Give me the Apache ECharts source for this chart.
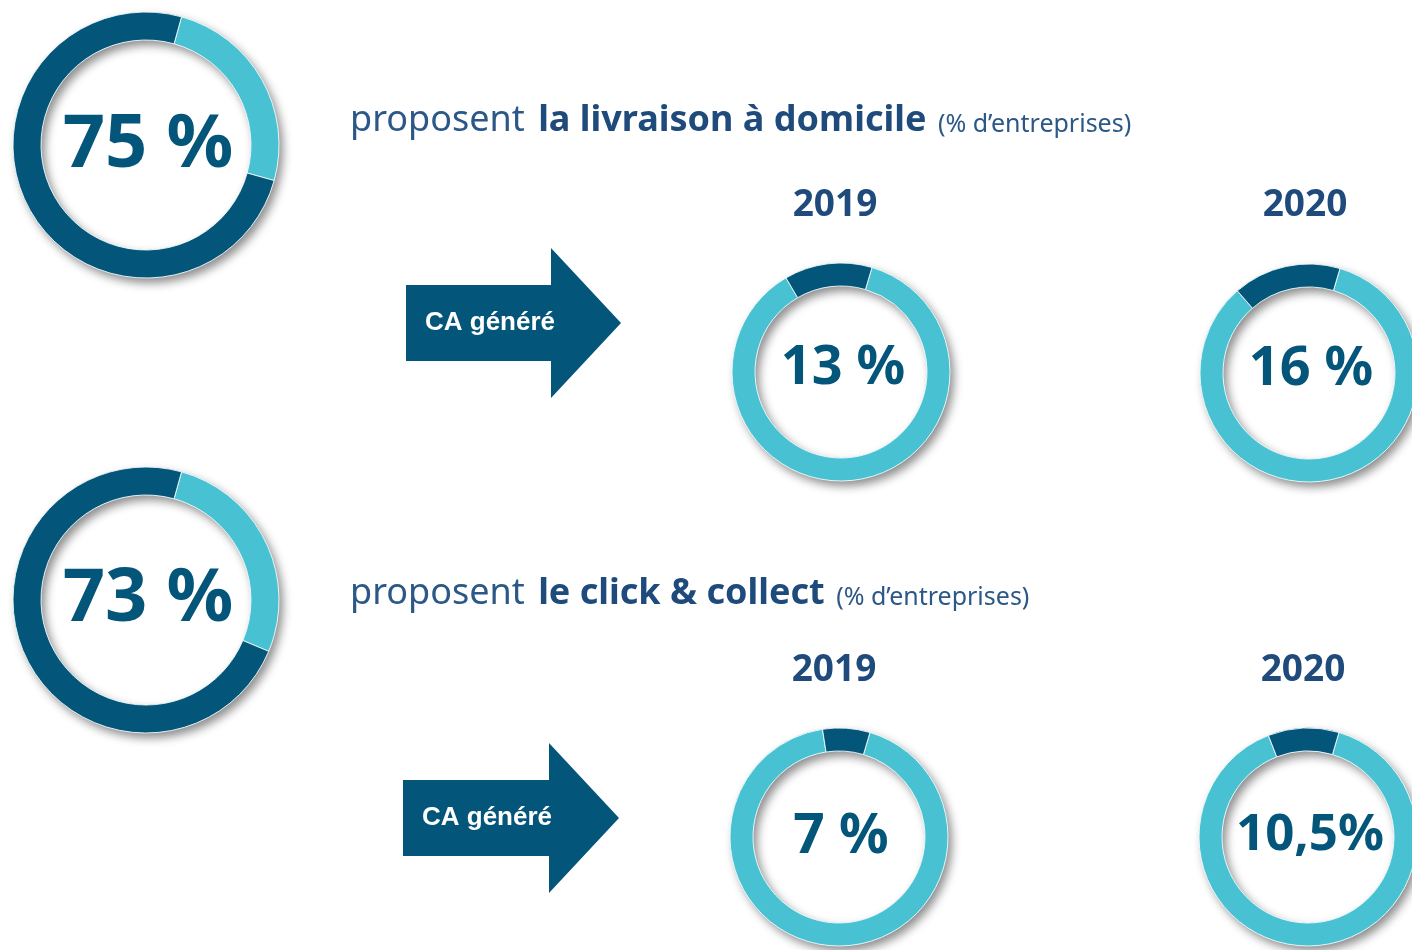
<!DOCTYPE html>
<html>
<head>
<meta charset="utf-8">
<script src="https://cdn.jsdelivr.net/npm/echarts@6/dist/echarts.min.js"></script>
<style>
    html, body { margin: 0; padding: 0; background: #fff; }
    #main { width: 1412px; height: 950px; }
</style>
</head>
<body>
<div id="main"></div>
<script>
var ringValues = [75, 73, 13, 16, 7, 10.5];
var ringLabels = ['75 %', '73 %', '13 %', '16 %', '7 %', '10,5%'];
var years = ['2019', '2020'];
var headingLead = 'proposent ';
var headingBold = ['la livraison à domicile', 'le click & collect'];
var headingNote = ' (% d\u2019entreprises)';
var arrowText = 'CA généré';

var DARK = '#03557a';
var LIGHT = '#48c1d3';
var NAVY = '#1f4a7c';
var FONT = '"Noto Sans", "Open Sans", sans-serif';

// centre + rayons de chaque anneau
var rings = [
    { c: [146, 145], r: [105, 133], fs: 74, start: 74.5, dy: 1 },
    { c: [146, 600], r: [105, 133], fs: 74, start: 74.5, dy: 0 },
    { c: [841, 372], r: [86, 109], fs: 54, start: 73.5, dy: -3 },
    { c: [1309, 373], r: [86, 109], fs: 54, start: 73.5, dy: -3 },
    { c: [839, 837], r: [86, 109], fs: 55, start: 73.5, dy: 0 },
    { c: [1308, 837], r: [86, 109], fs: 51, start: 73.5, dy: -2 }
];

var chart = echarts.init(document.getElementById('main'));

var series = [];
rings.forEach(function (ring, i) {
    // ombre portée sous l'anneau
    series.push({
        type: 'pie',
        silent: true,
        center: ring.c,
        radius: ring.r,
        label: { show: false },
        labelLine: { show: false },
        itemStyle: {
            color: LIGHT,
            shadowBlur: 10,
            shadowOffsetX: 4,
            shadowOffsetY: 5,
            shadowColor: 'rgba(0, 0, 0, 0.45)'
        },
        data: [100]
    });
    series.push({
        type: 'pie',
        silent: true,
        center: ring.c,
        radius: ring.r,
        startAngle: ring.start,
        clockwise: true,
        label: { show: false },
        labelLine: { show: false },
        itemStyle: { borderColor: 'rgba(255,255,255,0.85)', borderWidth: 1 },
        data: [
            { value: 100 - ringValues[i], itemStyle: { color: LIGHT } },
            { value: ringValues[i], itemStyle: { color: DARK } }
        ]
    });
});

var graphics = [];
rings.forEach(function (ring, i) {
    graphics.push({
        type: 'text',
        x: ring.c[0] + 2,
        y: ring.c[1] + ring.dy,
        style: {
            text: ringLabels[i],
            fill: DARK,
            font: 'bold ' + ring.fs + 'px ' + FONT,
            align: 'center',
            verticalAlign: 'middle'
        }
    });
});

// titres
var headY = [121, 594];
headingBold.forEach(function (txt, i) {
    graphics.push({
        type: 'text',
        x: 350,
        y: headY[i],
        style: {
            text: '{a|' + headingLead + '}{b|' + txt + '}{c|' + headingNote + '}',
            verticalAlign: 'middle',
            rich: {
                a: { fontFamily: FONT, fontSize: 36, fill: '#2b5886', fontWeight: 'normal', padding: [0, 4, 0, 0] },
                b: { fontFamily: FONT, fontSize: 36, fill: NAVY, fontWeight: 'bold', padding: [0, 5, 0, 0] },
                c: { fontFamily: FONT, fontSize: 25, fill: '#2b5886', fontWeight: 'normal', padding: [8, 0, 0, 0] }
            }
        }
    });
});

// années
var yearPos = [[835, 205], [1305, 205], [834, 670], [1303, 670]];
yearPos.forEach(function (p, i) {
    graphics.push({
        type: 'text',
        x: p[0],
        y: p[1],
        style: {
            text: years[i % 2],
            fill: NAVY,
            font: 'bold 37px ' + FONT,
            align: 'center',
            verticalAlign: 'middle'
        }
    });
});

// flèches "CA généré"
var arrows = [
    { x: 406, y: 285, w: 145, h: 76, hx: 621, ht: 248, hb: 398 },
    { x: 403, y: 780, w: 146, h: 76, hx: 619, ht: 743, hb: 893 }
];
arrows.forEach(function (a) {
    var x2 = a.x + a.w;
    var mid = a.y + a.h / 2;
    graphics.push({
        type: 'polygon',
        shape: {
            points: [
                [a.x, a.y], [x2, a.y], [x2, a.ht], [a.hx, mid],
                [x2, a.hb], [x2, a.y + a.h], [a.x, a.y + a.h]
            ]
        },
        style: { fill: DARK }
    });
    graphics.push({
        type: 'text',
        x: a.x + 19,
        y: mid,
        style: {
            text: arrowText,
            fill: '#fff',
            font: 'bold 26px "Liberation Sans", Arial, sans-serif',
            verticalAlign: 'middle'
        }
    });
});

chart.setOption({
    backgroundColor: '#fff',
    animation: false,
    series: series,
    graphic: graphics
});
</script>
</body>
</html>
